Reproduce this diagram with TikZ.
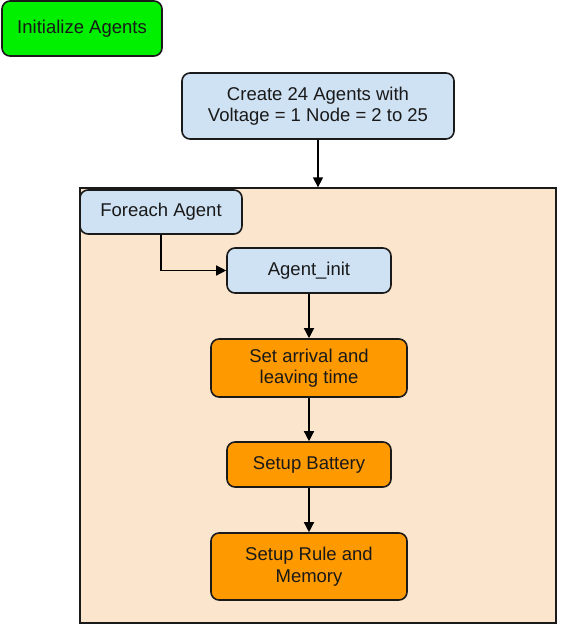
\documentclass[tikz,border=0pt]{standalone}
\usepackage{fontspec}
\setmainfont{Liberation Sans}
\usetikzlibrary{arrows.meta}
\definecolor{greenfill}{HTML}{00F000}
\definecolor{bluefill}{HTML}{CFE2F3}
\definecolor{orangefill}{HTML}{FF9900}
\definecolor{peach}{HTML}{FCE5CD}
\definecolor{edge}{HTML}{1A1A1A}
\tikzset{
  box/.style={draw=edge, line width=1.6pt, rounded corners=8pt, align=center,
    inner sep=0pt, font=\fontsize{18.5}{21.5}\selectfont, text=black!90},
  bluebox/.style={box, fill=bluefill},
  orangebox/.style={box, fill=orangefill},
  arr/.style={draw=black, line width=1.4pt, -{Triangle[length=10pt,width=10pt]}}
}
\begin{document}
\begin{tikzpicture}[x=1pt,y=-1pt]
\useasboundingbox (0,0) rectangle (568,634);
\node[draw=edge, line width=1.3pt, fill=peach, minimum width=476pt, minimum height=435pt, inner sep=0pt] (cont) at (318,405.5) {};
\node[box, fill=greenfill, minimum width=160pt, minimum height=55pt] (init) at (82,28.5) {Initialize Agents};
\node[bluebox, minimum width=272pt, minimum height=66pt] (create) at (318,106) {Create 24 Agents with\\Voltage = 1 Node = 2 to 25};
\node[bluebox, minimum width=162pt, minimum height=44pt] (foreach) at (161,212) {Foreach Agent};
\node[bluebox, minimum width=164pt, minimum height=45pt] (agentinit) at (309,270.5) {Agent\_init};
\node[orangebox, minimum width=196pt, minimum height=58pt] (arrival) at (309,368) {Set arrival and\\leaving time};
\node[orangebox, minimum width=164pt, minimum height=45pt] (battery) at (309,464.5) {Setup Battery};
\node[orangebox, minimum width=196pt, minimum height=67pt] (rule) at (309,566.5) {Setup Rule and\\Memory};
\draw[arr] (create.south) -- (cont.north);
\draw[arr] (foreach.south) |- (agentinit.west);
\draw[arr] (agentinit.south) -- (arrival.north);
\draw[arr] (arrival.south) -- (battery.north);
\draw[arr] (battery.south) -- (rule.north);
\end{tikzpicture}
\end{document}
